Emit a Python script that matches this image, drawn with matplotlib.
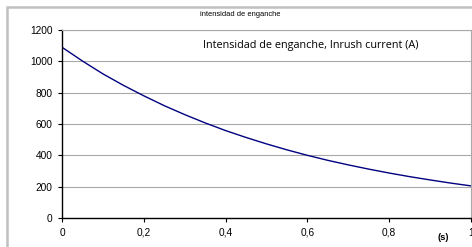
import numpy as np
import matplotlib.pyplot as plt
from matplotlib.patches import Rectangle

# values
t = [0, 0.05, 0.1, 0.15, 0.2, 0.25, 0.3, 0.35, 0.4, 0.45, 0.5,
     0.55, 0.6, 0.65, 0.7, 0.75, 0.8, 0.85, 0.9, 0.95, 1.0]
inrush = [1090, 1002, 920, 847, 780, 717, 660, 607, 558, 514, 473,
          435, 400, 368, 339, 312, 287, 264, 243, 223, 205]
xticks = [0, 0.2, 0.4, 0.6, 0.8, 1.0]
xlabels = ['0', '0,2', '0,4', '0,6', '0,8', '1']
yticks = [0, 200, 400, 600, 800, 1000, 1200]

W, H = 472, 247
fig = plt.figure(figsize=(W / 100, H / 100), dpi=100)
plt.rcParams['font.family'] = 'Liberation Sans'

# outer chart frame
fig.patches.append(Rectangle((7 / W, -0.2), 1.2, 1 - 7 / H + 0.2,
                             transform=fig.transFigure, fill=False,
                             edgecolor='#c0c0c0', linewidth=1.8))

ax = fig.add_axes([62 / W, 1 - 218 / H, (471 - 62) / W, (218 - 30) / H])
ax.plot(t, inrush, color='#000080', linewidth=1.0)
ax.set_xlim(0, 1)
ax.set_ylim(0, 1200)
ax.set_xticks(xticks)
ax.set_xticklabels(xlabels)
ax.set_yticks(yticks)
ax.tick_params(labelsize=7.3, length=3, width=0.8, pad=4)
ax.yaxis.grid(True, color='#a8a8a8', linewidth=0.8)
ax.set_axisbelow(True)
for s in ['top', 'right']:
    ax.spines[s].set_color('#a8a8a8')
    ax.spines[s].set_linewidth(0.8)
for s in ['left', 'bottom']:
    ax.spines[s].set_color('black')
    ax.spines[s].set_linewidth(1.0)

ax.text(0.345, 0.915, 'Intensidad de enganche, Inrush current (A)',
        transform=ax.transAxes, fontsize=7.8, family='Open Sans',
        va='center', ha='left')
fig.text(240 / W, 1 - 14 / H, 'intensidad de enganche', fontsize=5.4,
         ha='center', va='center')
fig.text(443 / W, 1 - 237 / H, '(s)', fontsize=6.8, fontweight='bold',
         ha='center', va='center')

fig.savefig('out.png', dpi=100)
